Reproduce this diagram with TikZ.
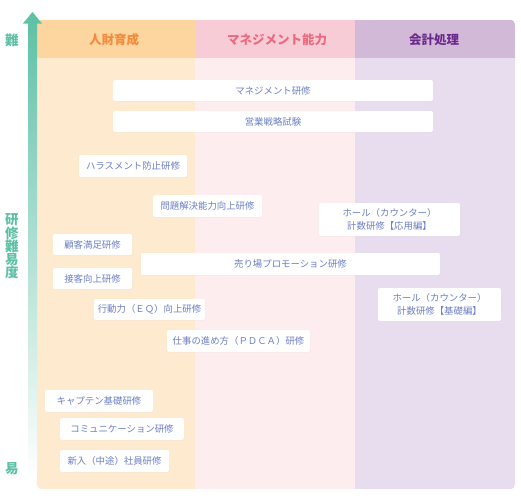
\documentclass[tikz,border=0pt]{standalone}
\usepackage{fontspec}
\setmainfont{Noto Sans CJK JP}
\usetikzlibrary{shadows}
\definecolor{hdrO}{HTML}{FCD59F}
\definecolor{bodyO}{HTML}{FDEACF}
\definecolor{hdrP}{HTML}{F8CCD6}
\definecolor{bodyP}{HTML}{FDEDEE}
\definecolor{hdrV}{HTML}{D3B9D8}
\definecolor{bodyV}{HTML}{E8DDEE}
\definecolor{txtO}{HTML}{F28B3B}
\definecolor{txtP}{HTML}{EA6B80}
\definecolor{txtV}{HTML}{6B2A8B}
\definecolor{boxtxt}{HTML}{6C80C4}
\definecolor{teal}{HTML}{5CC0A5}
\definecolor{tealtxt}{HTML}{5CC0A5}
\tikzset{
  tbox/.style={fill=white, rounded corners=2pt, inner sep=0pt, text=boxtxt,
    font=\fontsize{9.4}{12.5}\selectfont, align=center,
    drop shadow={opacity=0.06, shadow xshift=0.4pt, shadow yshift=-0.6pt}},
  hdr/.style={font=\fontsize{12.5}{14}\selectfont\bfseries, inner sep=0pt},
  side/.style={text=tealtxt, font=\fontsize{13.5}{13.3}\selectfont\bfseries, inner sep=0pt, align=center}
}
\begin{document}
\begin{tikzpicture}[x=1pt,y=-1pt]
\useasboundingbox (0,0) rectangle (521,501);
% columns
\begin{scope}
\clip[rounded corners=4pt] (37,20) -- (515,20) -- (515,489) -- (37,489) -- cycle;
\fill[bodyO] (37,20) rectangle (195,489);
\fill[bodyP] (195,20) rectangle (355,489);
\fill[bodyV] (355,20) rectangle (515,489);
\fill[hdrO] (37,20) rectangle (195,58);
\fill[hdrP] (195,20) rectangle (355,58);
\fill[hdrV] (355,20) rectangle (515,58);
\end{scope}
\node[hdr, text=txtO] (h1) at (114,40) {人財育成};
\node[hdr, text=txtP] (h2) at (277,40) {マネジメント能力};
\node[hdr, text=txtV] (h3) at (434,40) {会計処理};
% arrow
\shade[top color=teal, bottom color=white, middle color=teal!50]
  (28,478) -- (28,23.5) -- (23,23.5) -- (32.5,12) -- (42,23.5) -- (37,23.5) -- (37,478) -- cycle;
\node[side] (lhard) at (12,40) {難};
\node[side] (lmid) at (12,246.5) {研\\修\\難\\易\\度};
\node[side] (leasy) at (12,469) {易};
% boxes
\node[tbox, minimum width=320pt, minimum height=21pt] (b1) at (273,90.5) {マネジメント研修};
\node[tbox, minimum width=320pt, minimum height=21pt] (b2) at (273,121.5) {営業戦略試験};
\node[tbox, minimum width=108pt, minimum height=22pt] (b3) at (133,166) {ハラスメント防止研修};
\node[tbox, minimum width=109pt, minimum height=22pt] (b4) at (207.5,206) {問題解決能力向上研修};
\node[tbox, minimum width=79pt, minimum height=21pt] (b5) at (92.5,244.5) {顧客満足研修};
\node[tbox, minimum width=79pt, minimum height=21pt] (b6) at (92.5,278.5) {接客向上研修};
\node[tbox, minimum width=111pt, minimum height=21pt] (b7) at (149.5,309.5) {行動力（ＥＱ）向上研修};
\node[tbox, minimum width=299pt, minimum height=22pt] (b8) at (290.5,264) {売り場プロモーション研修};
\node[tbox, minimum width=141pt, minimum height=33pt] (b9) at (389.5,219.5) {ホール（カウンター）\\計数研修【応用編】};
\node[tbox, minimum width=123pt, minimum height=33pt] (b10) at (439.5,304.5) {ホール（カウンター）\\計数研修【基礎編】};
\node[tbox, minimum width=143pt, minimum height=22pt] (b11) at (238.5,341) {仕事の進め方（ＰＤＣＡ）研修};
\node[tbox, minimum width=108pt, minimum height=22pt] (b12) at (99,401) {キャプテン基礎研修};
\node[tbox, minimum width=124pt, minimum height=22pt] (b13) at (122,429) {コミュニケーション研修};
\node[tbox, minimum width=109pt, minimum height=22pt] (b14) at (114.5,461) {新入（中途）社員研修};
\end{tikzpicture}
\end{document}
